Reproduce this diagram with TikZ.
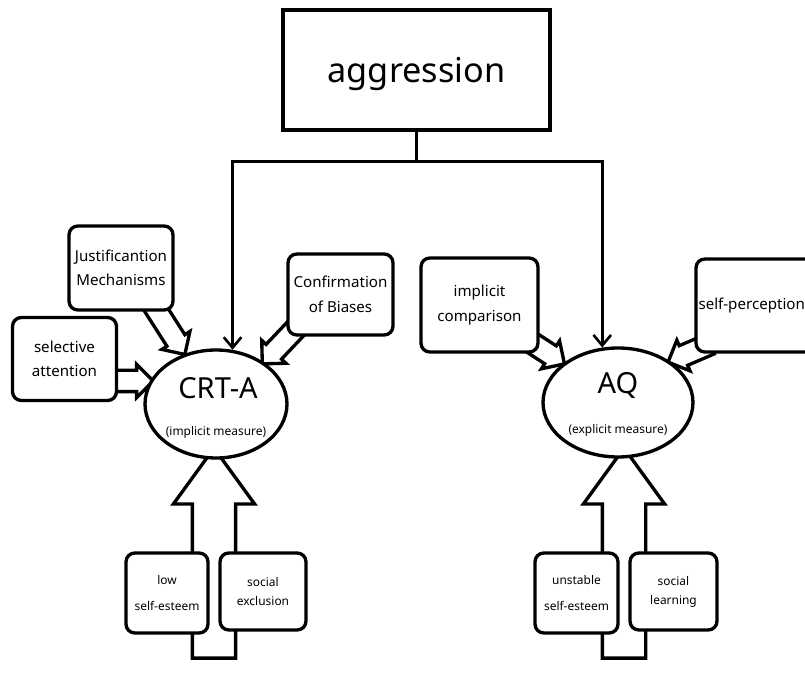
\documentclass[tikz,border=0pt]{standalone}
\usepackage{fontspec}
\setmainfont{Noto Sans}
\usetikzlibrary{positioning, calc, shapes.geometric, shapes.arrows, arrows.meta}
\pgfdeclarelayer{background}
\pgfsetlayers{background,main}

\tikzset{
  factor/.style={draw, line width=1.9pt, rounded corners=5pt, fill=white, align=center,
    inner sep=0pt, font=\fontsize{8.6}{14}\selectfont},
  cause/.style={factor, font=\fontsize{6.8}{15.3}\selectfont},
  social/.style={factor, font=\fontsize{6.8}{10.8}\selectfont},
  measure/.style={ellipse, draw, line width=1.9pt, fill=white, inner sep=0pt},
  mname/.style={font=\fontsize{16.5}{18}\selectfont, inner sep=0pt},
  msub/.style={font=\fontsize{6.8}{8}\selectfont, inner sep=0pt},
  hollow/.style={single arrow, draw, line width=1.9pt, fill=white, inner xsep=0pt,
    allow upside down, single arrow tip angle=90},
  smallarrow/.style={hollow, inner ysep=0.18cm, single arrow head extend=0.12cm},
  bigarrow/.style={hollow, inner ysep=0.4cm, single arrow head extend=0.38cm,
    single arrow tip angle=72},
  link/.style={line width=1.5pt, -{Straight Barb[length=6pt,width=10pt]}}
}

% hollow block arrow from #2 to #3
\newcommand{\blockarrow}[3]{%
  \path let \p1=($(#3)-(#2)$), \n1={veclen(\x1,\y1)} in
    (#2) -- (#3) node[midway, sloped, #1, minimum height=\n1] {};}

\begin{document}
\begin{tikzpicture}[x=0.02cm,y=-0.02cm]
\clip (0,0) rectangle (805,678);

\node[draw, line width=1.9pt, minimum width=5.34cm, minimum height=2.4cm, text depth=0pt,
  font=\fontsize{19.5}{22}\selectfont] (aggr) at (416.5,70) {aggression};

% measures
\node[measure, minimum width=2.84cm, minimum height=2.16cm] (crt) at (216,404) {};
\node[mname] (crtname) at (218,388) {CRT-A};
\node[msub] (crtsub) at (216,432) {(implicit measure)};
\node[measure, minimum width=3cm, minimum height=2.18cm] (aq) at (618,402.5) {};
\node[mname] (aqname) at (618,385) {AQ};
\node[msub] (aqsub) at (618,430) {(explicit measure)};

% side factors
\node[factor, minimum width=2.08cm, minimum height=1.68cm] (just) at (121,268) {Justificantion\\Mechanisms};
\node[factor, minimum width=2.08cm, minimum height=1.66cm] (sel) at (64.5,359) {selective\\attention};
\node[factor, minimum width=2.1cm, minimum height=1.62cm] (conf) at (340.5,294.5) {Confirmation\\of Biases};
\node[factor, minimum width=2.34cm, minimum height=1.88cm] (impl) at (479.5,305) {implicit\\comparison};
\node[factor, minimum width=2.8cm, minimum height=1.86cm, align=left, text width=2.7cm] (selfp) at (766,305.5) {self-perception};

% causes
\node[cause, minimum width=1.64cm, minimum height=1.6cm] (low) at (167,593) {low\\self-esteem};
\node[social, minimum width=1.72cm, minimum height=1.54cm] (excl) at (263,591.5) {social\\exclusion};
\node[cause, minimum width=1.66cm, minimum height=1.6cm] (unst) at (576.5,593) {unstable\\self-esteem};
\node[social, minimum width=1.74cm, minimum height=1.54cm] (learn) at (673.5,591.5) {social\\learning};

% aggression links
\draw[line width=1.5pt] (aggr.south) -- ++(0,30) coordinate (split);
\draw[link] (split) -| (crt.73);
\draw[link] (split) -| (aq.106);

% block arrows
\coordinate (jfrom) at (150,300);  \coordinate (jto) at (182,350);
\coordinate (sfrom) at (100,381);  \coordinate (sto) at (148,381);
\coordinate (cfrom) at (302,322);  \coordinate (cto) at (266,360);
\coordinate (ifrom) at (520,335);  \coordinate (ito) at (560,361);
\coordinate (pfrom) at (715,342);  \coordinate (pto) at (673,360);
\coordinate (crtsrc) at (214,673); \coordinate (crttip) at (214,463);
\coordinate (aqsrc) at (624,673);  \coordinate (aqtip) at (624,463);

\begin{pgfonlayer}{background}
\blockarrow{smallarrow}{jfrom}{jto}
\blockarrow{smallarrow}{sfrom}{sto}
\blockarrow{smallarrow}{cfrom}{cto}
\blockarrow{smallarrow}{ifrom}{ito}
\blockarrow{smallarrow}{pfrom}{pto}
\blockarrow{bigarrow}{crtsrc}{crttip}
\blockarrow{bigarrow}{aqsrc}{aqtip}
\end{pgfonlayer}
\end{tikzpicture}
\end{document}
